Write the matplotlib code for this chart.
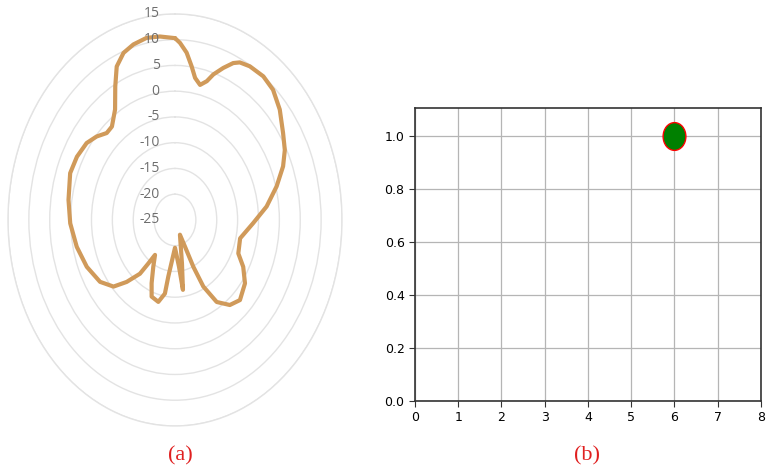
import numpy as np
import matplotlib.pyplot as plt
from matplotlib.path import Path
from matplotlib.transforms import Affine2D, offset_copy

# (a) radiation pattern, angle clockwise from top (deg) and gain (dB)
theta_deg = [0, 2.0, 4.9, 7.6, 9.9, 12.9, 15.8, 18.0, 21.4, 24.6, 26.9, 31.0,
             37.2, 42.9, 49.5, 56.9, 62.7, 68.1, 75.0, 83.2, 92.0, 102.9,
             113.2, 119.1, 126.3, 135.0, 141.5, 147.9, 152.3, 154.2, 155.2,
             157.5, 168.8, 172.0, 174.0, 180.0, 188.3, 189.6, 194.1, 200.6,
             204.5, 209.7, 215.2, 217.1, 218.8, 223.9, 228.7, 236.2, 246.7,
             257.5, 268.5, 278.7, 289.9, 297.6, 305.2, 310.8, 315.9, 320.2,
             326.2, 331.1, 334.9, 339.2, 343.7, 349.1, 354.2, 360]
gain_db = [10.3, 9.4, 7.6, 5.1, 3.0, 1.9, 3.0, 4.7, 6.7, 8.5, 9.3, 9.8,
           10.0, 9.5, 8.0, 5.9, 4.6, 2.9, 0.2, -2.9, -6.3, -9.0,
           -8.5, -6.3, -4.2, -3.0, -3.9, -6.2, -10.4, -14.9, -19.3,
           -21.9, -16.4, -11.3, -15.9, -19.6, -13.9, -10.5, -8.6, -9.1,
           -11.5, -14.5, -16.7, -14.4, -11.6, -8.3, -5.4, -3.4, -2.0,
           -0.9, 0.1, 0.8, 1.7, 1.5, 0.9, -0.2, -1.5, -1.4,
           0.8, 4.6, 7.9, 9.7, 10.5, 11.0, 10.8, 10.3]
r_ticks = [-25, -20, -15, -10, -5, 0, 5, 10, 15]

# (b) scatter
pt_x = [6]
pt_y = [1.0]

fig = plt.figure(figsize=(7.67, 4.72), dpi=100)

# ---- (a) polar ----
ax1 = fig.add_axes([0.0104, 0.0975, 0.4355, 0.873], projection="polar")
ax1.set_aspect("auto")
ax1.set_theta_zero_location("N")
ax1.set_theta_direction(-1)
ax1.set_ylim(-25, 15)
ax1.set_yticks(r_ticks[1:])
ax1.set_yticklabels([])
ax1.set_xticks([])
ax1.yaxis.grid(True, color="#e3e3e3", linewidth=1.0)
ax1.spines["polar"].set_color("#e3e3e3")
ax1.spines["polar"].set_linewidth(1.0)
ax1.plot(np.radians(theta_deg), gain_db, color="#d09a5a", linewidth=3.0,
         solid_joinstyle="round", solid_capstyle="round")
lbl_tr = offset_copy(ax1.transData, fig=fig, x=-11, y=0, units="points")
for v in r_ticks:
    ax1.text(0, v, str(v), transform=lbl_tr, ha="right", va="center",
             fontsize=10, color="#6e6e6e", family="Open Sans")

# ---- (b) scatter ----
ax2 = fig.add_axes([0.541, 0.1504, 0.451, 0.621])
ellipse = Path(Affine2D().scale(0.82, 1.0).transform(Path.unit_circle().vertices),
               Path.unit_circle().codes)
ax2.scatter(pt_x, pt_y, s=400, marker=ellipse, facecolor="green",
            edgecolor="red", linewidth=1.0, zorder=3)
ax2.set_xlim(0, 8)
ax2.set_ylim(0, 1.105)
ax2.set_xticks(range(0, 9))
ax2.set_yticks([0.0, 0.2, 0.4, 0.6, 0.8, 1.0])
ax2.grid(True, color="#b5b5b5", linewidth=0.9)
ax2.tick_params(labelsize=9, length=4, color="#333333")
for s in ax2.spines.values():
    s.set_color("#333333")
    s.set_linewidth(1.2)

fig.text(180 / 767, 1 - 456 / 472, "(a)", color="#e02020", fontsize=16,
         family="Liberation Serif", ha="center", va="center")
fig.text(587 / 767, 1 - 456 / 472, "(b)", color="#e02020", fontsize=16,
         family="Liberation Serif", ha="center", va="center")

plt.savefig("out.png", dpi=100)
